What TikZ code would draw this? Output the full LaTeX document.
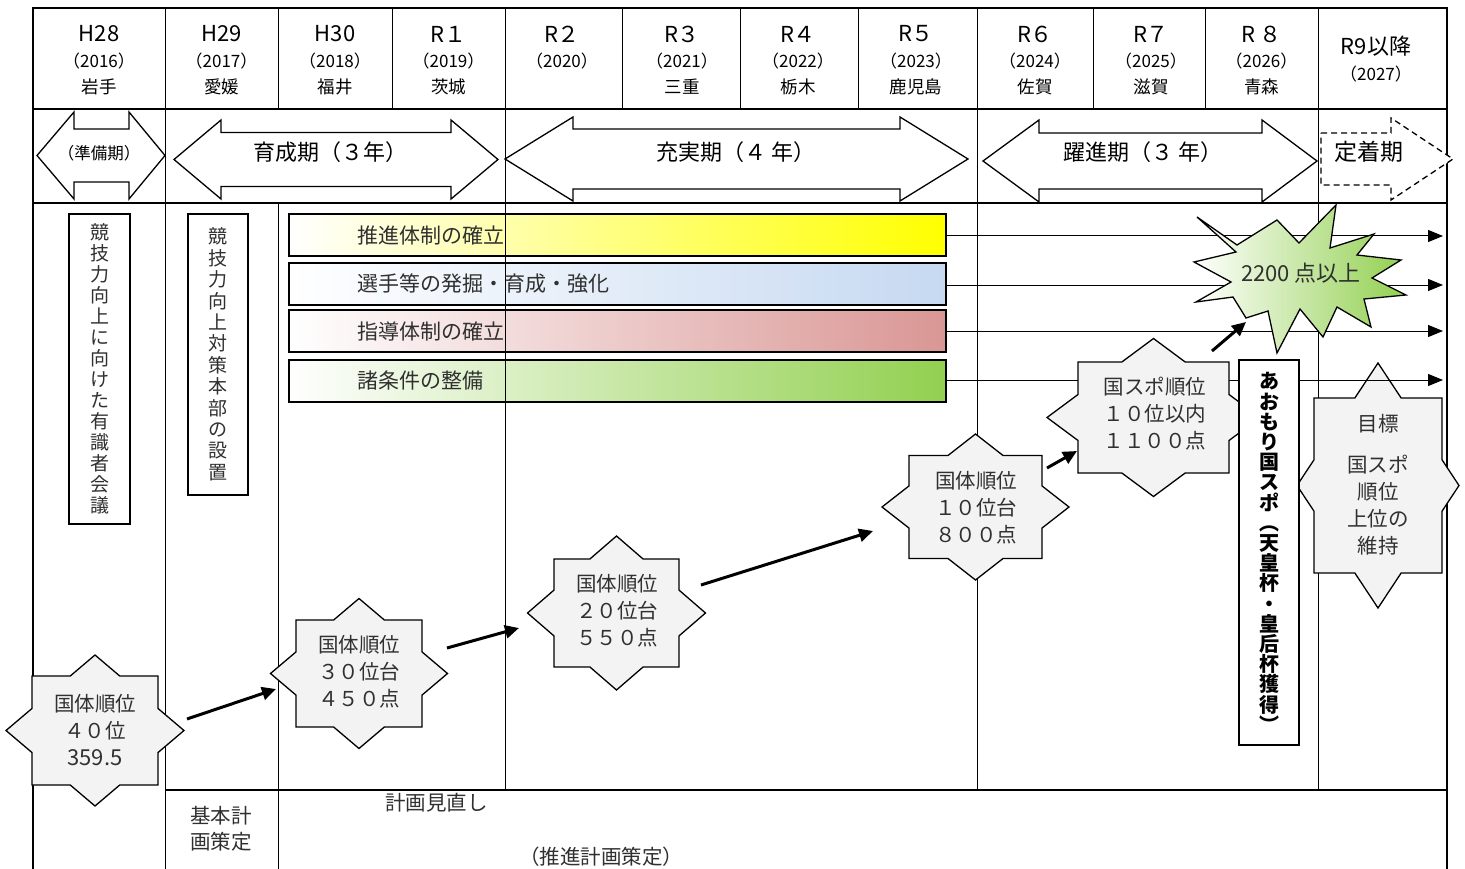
\documentclass[tikz,border=0pt]{standalone}
\usepackage{fontspec}
\setmainfont{Noto Sans CJK JP}
\usetikzlibrary{arrows.meta}
\definecolor{barY}{HTML}{FFFF00}
\definecolor{barB}{HTML}{C6D9F1}
\definecolor{barR}{HTML}{D99694}
\definecolor{barG}{HTML}{92D050}
\definecolor{starfill}{HTML}{F3F3F3}
\definecolor{txt}{HTML}{303030}
\newcommand{\octstar}[6]{%
 \path[starshape] ({#1},{#2-#6}) -- ({#1+#5*(1-#4/#6)},{#2-#4}) -- ({#1+#3},{#2-#4}) -- ({#1+#3},{#2-#6*(1-#3/#5)}) -- ({#1+#5},{#2}) -- ({#1+#3},{#2+#6*(1-#3/#5)}) -- ({#1+#3},{#2+#4}) -- ({#1+#5*(1-#4/#6)},{#2+#4}) -- ({#1},{#2+#6}) -- ({#1-#5*(1-#4/#6)},{#2+#4}) -- ({#1-#3},{#2+#4}) -- ({#1-#3},{#2+#6*(1-#3/#5)}) -- ({#1-#5},{#2}) -- ({#1-#3},{#2-#6*(1-#3/#5)}) -- ({#1-#3},{#2-#4}) -- ({#1-#5*(1-#4/#6)},{#2-#4}) -- cycle;}
\newcommand{\dblarrow}[7]{%
 \path[parrow] ({#1},{#5}) -- ({#1+#3},{#5-#7}) -- ({#1+#3},{#5-#6}) -- ({#2-#4},{#5-#6}) -- ({#2-#4},{#5-#7}) -- ({#2},{#5}) -- ({#2-#4},{#5+#7}) -- ({#2-#4},{#5+#6}) -- ({#1+#3},{#5+#6}) -- ({#1+#3},{#5+#7}) -- cycle;}
\newcommand{\hdr}[5]{%
 \node[hlab] (#1a) at (#2,34) {#3};
 \node[hyear] (#1b) at (#2,61) {#4};
 \node[hpref] (#1c) at (#2,87) {#5};}
\begin{document}
\begin{tikzpicture}[x=1pt,y=-1pt,
  thickline/.style={line width=2pt},
  thinline/.style={line width=1pt},
  hlab/.style={inner sep=0pt,font=\fontsize{22}{26}\selectfont},
  hyear/.style={inner sep=0pt,font=\fontsize{17}{20}\selectfont},
  hpref/.style={inner sep=0pt,font=\fontsize{17.5}{20}\selectfont},
  parrow/.style={draw,fill=white,line width=1.3pt,line join=miter},
  ptext/.style={inner sep=0pt,font=\fontsize{22}{26}\selectfont},
  bar/.style={draw,line width=1.6pt,minimum width=657pt,minimum height=42pt,inner sep=0pt},
  bartext/.style={inner sep=0pt,anchor=west,font=\fontsize{21}{24}\selectfont,text=txt},
  flowarrow/.style={line width=1pt,-{Triangle[length=15pt,width=12pt]}},
  starshape/.style={draw,fill=starfill,line width=1.3pt,line join=miter},
  startext/.style={inner sep=0pt,align=center,font=\fontsize{20.5}{27}\selectfont,text=txt},
  vbox/.style={draw,fill=white,line width=1.5pt,inner sep=0pt,align=center},
  bigarrow/.style={line width=3pt,-{Triangle[length=14pt,width=13pt]}},
  btext/.style={inner sep=0pt,font=\fontsize{20.5}{26}\selectfont,text=txt}]
\useasboundingbox (0,0) rectangle (1465,869);
\fill[white] (0,0) rectangle (1465,869);

% gradient bars
\node[bar,left color=white,right color=barY] (bar1) at (617.5,235) {};
\node[bar,left color=white,right color=barB] (bar2) at (617.5,284) {};
\node[bar,left color=white,right color=barR] (bar3) at (617.5,331) {};
\node[bar,left color=white,right color=barG] (bar4) at (617.5,381) {};

% grid
\draw[thinline] (165,8) -- (165,869);
\draw[thinline] (278,8) -- (278,109) (278,203) -- (278,869);
\draw[thinline] (392,8) -- (392,109);
\draw[thinline] (505,8) -- (505,109) (505,109) -- (505,790);
\draw[thinline] (622,8) -- (622,109);
\draw[thinline] (740,8) -- (740,109);
\draw[thinline] (858,8) -- (858,109);
\draw[thinline] (977,8) -- (977,790);
\draw[thinline] (1093,8) -- (1093,109);
\draw[thinline] (1205,8) -- (1205,109);
\draw[thinline] (1318,8) -- (1318,790);
\draw[thickline] (33,869) -- (33,8) -- (1447,8) -- (1447,869);
\draw[line width=1.6pt] (33,109) -- (1447,109);
\draw[line width=2.4pt] (33,203) -- (1447,203);
\draw[thickline] (165,790) -- (1447,790);

% header
\hdr{h28}{99}{H28}{（2016）}{岩手}
\hdr{h29}{221.5}{H29}{（2017）}{愛媛}
\hdr{h30}{335}{H30}{（2018）}{福井}
\hdr{r1}{448.5}{R１}{（2019）}{茨城}
\hdr{r2}{562}{R２}{（2020）}{}
\hdr{r3}{682}{R３}{（2021）}{三重}
\hdr{r4}{798}{R４}{（2022）}{栃木}
\hdr{r5}{916}{R５}{（2023）}{鹿児島}
\hdr{r6}{1035}{R６}{（2024）}{佐賀}
\hdr{r7}{1151}{R７}{（2025）}{滋賀}
\hdr{r8}{1261.5}{R ８}{（2026）}{青森}
\node[hlab] (r9a) at (1376,46) {R9以降};
\node[hyear] (r9b) at (1376,74) {（2027）};

% period arrows
\dblarrow{37}{165}{37}{36}{155.5}{26.5}{43.5}
\dblarrow{174}{498}{47}{47}{159.5}{27}{39.5}
\dblarrow{505}{968}{68}{68}{159}{30}{42}
\dblarrow{983}{1317}{56}{55}{161}{28}{41}
\path[draw,fill=white,line width=1.3pt,dashed,dash pattern=on 6pt off 4pt] (1321,133) -- (1391,133) -- (1391,118) -- (1453,159) -- (1391,200) -- (1391,185) -- (1321,185) -- cycle;
\node[inner sep=0pt,font=\fontsize{16.5}{18}\selectfont] (p0) at (99,153) {（準備期）};
\node[ptext] (p1) at (330,152) {育成期（３年）};
\node[ptext] (p2) at (736,152) {充実期（４ 年）};
\node[ptext] (p3) at (1143,152) {躍進期（３ 年）};
\node[inner sep=0pt,font=\fontsize{23}{26}\selectfont] (p4) at (1369,152) {定着期};

% star 6 (behind flow lines)
\octstar{1378}{485.5}{64}{87.5}{81}{122.5}

% flow arrows
\coordinate (e1) at (1443,236);
\coordinate (e2) at (1443,285);
\coordinate (e3) at (1443,331);
\coordinate (e4) at (1443,380);
\draw[flowarrow] (bar1.east |- e1) -- (e1);
\draw[flowarrow] (bar2.east |- e2) -- (e2);
\draw[flowarrow] (bar3.east |- e3) -- (e3);
\draw[flowarrow] (bar4.east |- e4) -- (e4);

% bar texts
\node[bartext] (t1) at (357,235) {推進体制の確立};
\node[bartext] (t2) at (357,284) {選手等の発掘・育成・強化};
\node[bartext] (t3) at (357,331) {指導体制の確立};
\node[bartext] (t4) at (357,381) {諸条件の整備};

% vertical boxes
\node[vbox,minimum width=61pt,minimum height=310pt,font=\fontsize{19}{21}\selectfont,text=txt] (vb1) at (99.5,369)
 {競\\技\\力\\向\\上\\に\\向\\け\\た\\有\\識\\者\\会\\議};
\node[vbox,minimum width=60pt,minimum height=281pt,font=\fontsize{19}{21.4}\selectfont,text=txt] (vb2) at (218,354.5)
 {競\\技\\力\\向\\上\\対\\策\\本\\部\\の\\設\\置};

% stars
\octstar{95}{730.5}{63}{54.5}{89}{75.5}
\octstar{359}{673.5}{63}{53.5}{88.5}{75}
\octstar{616.5}{613}{62.5}{54}{89}{77}
\octstar{975.5}{507}{66.5}{51.5}{93.5}{73}
\octstar{1153.5}{417.5}{75.5}{55.5}{106.5}{79}
\node[startext] (s1) at (95,730) {国体順位\\４０位\\{\fontsize{22}{27}\selectfont 359.5}};
\node[startext] (s2) at (359,672) {国体順位\\３０位台\\４５０点};
\node[startext] (s3) at (617,611) {国体順位\\２０位台\\５５０点};
\node[startext] (s4) at (976,508) {国体順位\\１０位台\\８００点};
\node[startext] (s5) at (1155,414) {国スポ順位\\１０位以内\\１１００点};
\node[startext] (s6a) at (1378,424) {目標};
\node[startext] (s6b) at (1378,505.5) {国スポ\\順位\\上位の\\維持};

% burst
\path[draw,line width=1.3pt,line join=miter,left color=white,right color=barG]
 (1197,217) -- (1237,245) -- (1277,220) -- (1299,243) -- (1336,205) -- (1330,248) -- (1374,234) -- (1357,255) -- (1401,260) -- (1372,278) -- (1406,295) -- (1364,299) -- (1371,327) -- (1337,307) -- (1323,337) -- (1300,309) -- (1277,353) -- (1268,311) -- (1246,318) -- (1233,297) -- (1196,302) -- (1231,282) -- (1194,262) -- (1236,252) -- cycle;
\node[inner sep=0pt,font=\fontsize{22}{26}\selectfont,text=txt] (goal) at (1301,273) {2200 点以上};

% aomori box
\node[vbox,minimum width=60pt,minimum height=385pt,font=\fontsize{20}{20.2}\selectfont\bfseries] (vb3) at (1269,552.5)
 {あ\\お\\も\\り\\国\\ス\\ポ\\︵\\天\\皇\\杯\\・\\皇\\后\\杯\\獲\\得\\︶};

% progress arrows
\coordinate (a1s) at (187,719); \coordinate (a1e) at (276,689);
\coordinate (a2s) at (447,648); \coordinate (a2e) at (519,628);
\coordinate (a3s) at (701,585); \coordinate (a3e) at (873,531);
\coordinate (a4s) at (1047,468); \coordinate (a4e) at (1077,451);
\coordinate (a5s) at (1212,351); \coordinate (a5e) at (1246,322);
\draw[bigarrow] (a1s) -- (a1e);
\draw[bigarrow] (a2s) -- (a2e);
\draw[bigarrow] (a3s) -- (a3e);
\draw[bigarrow] (a4s) -- (a4e);
\draw[bigarrow] (a5s) -- (a5e);

% bottom row texts
\node[btext,align=left,anchor=north west] (k1) at (190,806) {基本計\\画策定};
\node[btext,anchor=north west] (k2) at (385,793) {計画見直し};
\node[btext,anchor=north west] (k3) at (519,847) {（推進計画策定）};
\end{tikzpicture}
\end{document}
